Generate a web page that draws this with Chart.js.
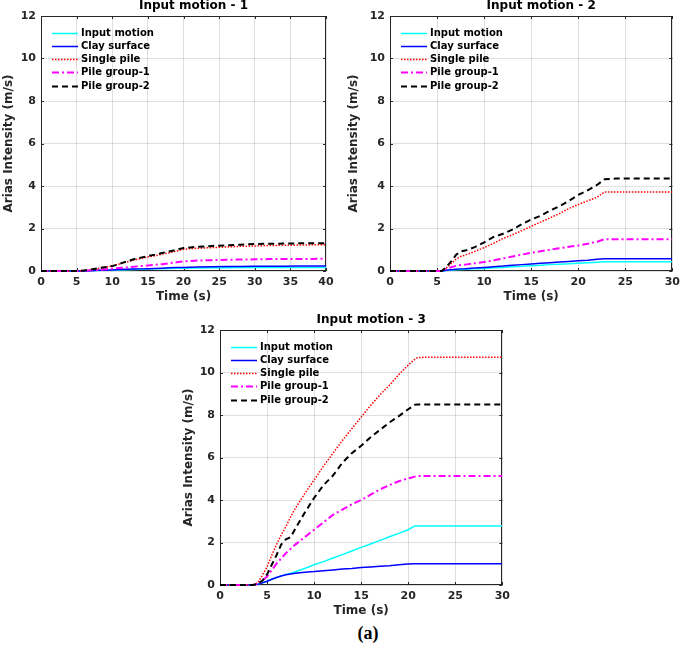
<!DOCTYPE html>
<html>
<head>
<meta charset="utf-8">
<script src="https://cdn.jsdelivr.net/npm/chart.js@4.4.0/dist/chart.umd.min.js"></script>
<style>
    body { margin: 0; background: #fff; }
    #wrap { position: relative; width: 685px; height: 646px; background: #fff; overflow: hidden; }
    canvas { position: absolute; }
    #chart1 { left: 0; top: 0; }
    #chart2 { left: 345px; top: 0; }
    #chart3 { left: 175px; top: 305px; }
    #caption {
        position: absolute; left: 318px; top: 623px; width: 100px; text-align: center;
        font: bold 18px "Liberation Serif", "DejaVu Serif", serif; color: #000;
    }
</style>
</head>
<body>
<div id="wrap">
    <canvas id="chart1" width="340" height="305"></canvas>
    <canvas id="chart2" width="340" height="305"></canvas>
    <canvas id="chart3" width="340" height="315"></canvas>
    <div id="caption">(a)</div>
</div>
<script>
const seriesNames = ['Input motion', 'Clay surface', 'Single pile', 'Pile group-1', 'Pile group-2'];
const chartTitles = ['Input motion - 1', 'Input motion - 2', 'Input motion - 3'];

// input motion 1
const m1Time   = [0, 5, 6, 7, 8, 9, 10, 11, 12, 13, 14, 15, 16, 17, 18, 19, 20, 21, 22, 24, 26, 28, 30, 32, 34, 36, 38, 40];
const m1Input  = [0, 0, 0.005, 0.012, 0.02, 0.03, 0.04, 0.05, 0.06, 0.07, 0.08, 0.09, 0.1, 0.11, 0.12, 0.13, 0.135, 0.14, 0.145, 0.15, 0.155, 0.16, 0.162, 0.165, 0.167, 0.17, 0.17, 0.17];
const m1Clay   = [0, 0, 0.005, 0.015, 0.03, 0.04, 0.05, 0.065, 0.08, 0.09, 0.1, 0.11, 0.12, 0.135, 0.15, 0.16, 0.17, 0.18, 0.19, 0.2, 0.21, 0.215, 0.22, 0.225, 0.228, 0.23, 0.23, 0.23];
const m1Single = [0, 0, 0.02, 0.06, 0.12, 0.18, 0.24, 0.33, 0.42, 0.51, 0.59, 0.66, 0.72, 0.79, 0.86, 0.94, 1.02, 1.05, 1.07, 1.1, 1.13, 1.16, 1.18, 1.2, 1.21, 1.22, 1.23, 1.23];
const m1Group1 = [0, 0, 0.01, 0.03, 0.05, 0.08, 0.11, 0.14, 0.17, 0.2, 0.23, 0.26, 0.29, 0.32, 0.36, 0.41, 0.45, 0.47, 0.49, 0.51, 0.53, 0.54, 0.55, 0.56, 0.56, 0.57, 0.57, 0.58];
const m1Group2 = [0, 0, 0.02, 0.07, 0.13, 0.18, 0.23, 0.33, 0.45, 0.55, 0.63, 0.7, 0.77, 0.85, 0.92, 1.0, 1.08, 1.11, 1.14, 1.18, 1.21, 1.24, 1.27, 1.28, 1.29, 1.3, 1.31, 1.31];

// input motion 2
const m2Time   = [0, 5, 5.5, 6, 6.5, 7, 7.5, 8, 9, 10, 11, 12, 13, 14, 15, 16, 17, 18, 19, 20, 21, 22, 22.8, 24, 26, 28, 30];
const m2Input  = [0, 0, 0, 0.02, 0.04, 0.06, 0.07, 0.08, 0.1, 0.12, 0.15, 0.17, 0.2, 0.22, 0.25, 0.27, 0.3, 0.32, 0.34, 0.37, 0.39, 0.41, 0.43, 0.43, 0.43, 0.43, 0.43];
const m2Clay   = [0, 0, 0, 0.03, 0.06, 0.08, 0.1, 0.11, 0.14, 0.17, 0.2, 0.23, 0.27, 0.3, 0.33, 0.36, 0.39, 0.42, 0.45, 0.48, 0.51, 0.55, 0.58, 0.58, 0.58, 0.58, 0.58];
const m2Single = [0, 0, 0, 0.15, 0.35, 0.55, 0.68, 0.75, 0.92, 1.1, 1.3, 1.53, 1.7, 1.9, 2.1, 2.3, 2.5, 2.7, 2.94, 3.13, 3.3, 3.47, 3.72, 3.72, 3.72, 3.72, 3.72];
const m2Group1 = [0, 0, 0, 0.1, 0.18, 0.24, 0.28, 0.3, 0.36, 0.42, 0.5, 0.59, 0.68, 0.77, 0.86, 0.93, 1.0, 1.07, 1.14, 1.2, 1.28, 1.38, 1.5, 1.5, 1.5, 1.5, 1.5];
const m2Group2 = [0, 0, 0, 0.2, 0.45, 0.75, 0.92, 0.96, 1.12, 1.35, 1.6, 1.75, 1.95, 2.2, 2.42, 2.6, 2.84, 3.05, 3.3, 3.58, 3.8, 4.05, 4.32, 4.35, 4.35, 4.35, 4.35];

// input motion 3
const m3Time   = [0, 3.5, 4, 4.5, 5, 5.5, 6, 6.5, 7, 7.5, 8, 9, 10, 11, 12, 13, 14, 15, 16, 17, 18, 19, 20, 20.7, 21, 22, 25, 30];
const m3Input  = [0, 0, 0.04, 0.1, 0.18, 0.27, 0.35, 0.43, 0.5, 0.56, 0.62, 0.78, 0.95, 1.1, 1.27, 1.43, 1.6, 1.77, 1.93, 2.1, 2.27, 2.43, 2.6, 2.78, 2.78, 2.78, 2.78, 2.78];
const m3Clay   = [0, 0, 0.03, 0.1, 0.18, 0.27, 0.35, 0.42, 0.48, 0.52, 0.55, 0.6, 0.63, 0.67, 0.71, 0.75, 0.78, 0.82, 0.85, 0.88, 0.91, 0.95, 0.99, 1.0, 1.0, 1.0, 1.0, 1.0];
const m3Single = [0, 0, 0.1, 0.45, 0.86, 1.4, 1.9, 2.35, 2.75, 3.2, 3.6, 4.3, 4.94, 5.6, 6.2, 6.8, 7.35, 7.9, 8.45, 8.95, 9.4, 9.9, 10.35, 10.62, 10.7, 10.72, 10.72, 10.72];
const m3Group1 = [0, 0, 0.05, 0.2, 0.4, 0.7, 1.0, 1.25, 1.5, 1.7, 1.9, 2.25, 2.6, 2.95, 3.3, 3.55, 3.8, 4.0, 4.25, 4.5, 4.7, 4.88, 5.02, 5.1, 5.13, 5.13, 5.13, 5.13];
const m3Group2 = [0, 0, 0.05, 0.2, 0.5, 0.95, 1.4, 1.9, 2.15, 2.25, 2.65, 3.4, 4.1, 4.7, 5.15, 5.75, 6.2, 6.55, 6.95, 7.3, 7.65, 7.95, 8.27, 8.48, 8.5, 8.5, 8.5, 8.5];

const lineStyles = [
    { color: '#00FFFF', width: 1.5, dash: [] },
    { color: '#0000FF', width: 1.5, dash: [] },
    { color: '#FF0000', width: 1.5, dash: [1.5, 1.5] },
    { color: '#FF00FF', width: 2, dash: [7, 3, 2, 3] },
    { color: '#000000', width: 2, dash: [6, 4] }
];

const FONT = '"DejaVu Sans", Verdana, sans-serif';
const axisColor = '#262626';
const gridColor = 'rgba(38,38,38,0.15)';

// MATLAB-like box with inward ticks, drawn under the lines
const framePlugin = {
    id: 'frame',
    beforeDatasetsDraw(chart) {
        const { ctx, chartArea: a, scales } = chart;
        ctx.save();
        ctx.strokeStyle = axisColor;
        ctx.lineWidth = 1;
        ctx.strokeRect(Math.round(a.left) + 0.5, Math.round(a.top) + 0.5,
            Math.round(a.right - a.left) - 1, Math.round(a.bottom - a.top) - 1);
        ctx.beginPath();
        scales.x.ticks.forEach(t => {
            const px = Math.round(scales.x.getPixelForValue(t.value)) + 0.5;
            ctx.moveTo(px, a.bottom); ctx.lineTo(px, a.bottom - 3);
            ctx.moveTo(px, a.top); ctx.lineTo(px, a.top + 3);
        });
        scales.y.ticks.forEach(t => {
            const py = Math.round(scales.y.getPixelForValue(t.value)) + 0.5;
            ctx.moveTo(a.left, py); ctx.lineTo(a.left + 3, py);
            ctx.moveTo(a.right, py); ctx.lineTo(a.right - 3, py);
        });
        ctx.stroke();
        ctx.restore();
    }
};

// axes title, centred a little right of the plot centre as in the figure
const axesTitle = {
    id: 'axesTitle',
    afterDraw(chart, args, opts) {
        const { ctx, chartArea: a } = chart;
        ctx.save();
        ctx.font = 'bold 12px ' + FONT;
        ctx.fillStyle = '#000';
        ctx.textAlign = 'center';
        ctx.textBaseline = 'middle';
        ctx.fillText(opts.text, (a.left + a.right) / 2 + 10, a.top - 10);
        ctx.restore();
    }
};

// legend drawn inside the axes, top left
const insideLegend = {
    id: 'insideLegend',
    afterDatasetsDraw(chart) {
        const { ctx, chartArea: a } = chart;
        const x0 = a.left + 11;
        ctx.save();
        ctx.font = 'bold 10px ' + FONT;
        ctx.textBaseline = 'middle';
        ctx.fillStyle = '#000';
        chart.data.datasets.forEach((ds, i) => {
            const y = Math.round(a.top + 16.5 + i * 13.3) + 0.5;
            ctx.strokeStyle = ds.borderColor;
            ctx.lineWidth = ds.borderWidth;
            ctx.setLineDash(ds.borderDash);
            ctx.beginPath();
            ctx.moveTo(x0, y);
            ctx.lineTo(x0 + 26, y);
            ctx.stroke();
            ctx.fillText(ds.label, x0 + 29, y);
        });
        ctx.restore();
    }
};

function makeChart(id, title, times, values, xMax, box) {
    const ctx = document.getElementById(id).getContext('2d');
    return new Chart(ctx, {
        type: 'line',
        data: {
            datasets: values.map((vals, i) => ({
                label: seriesNames[i],
                data: times.map((t, k) => ({ x: t, y: vals[k] })),
                borderColor: lineStyles[i].color,
                borderWidth: lineStyles[i].width,
                borderDash: lineStyles[i].dash,
                pointRadius: 0,
                fill: false,
                tension: 0,
                clip: { left: 0, top: 0, right: 0, bottom: 3 },
                order: values.length - 1 - i
            }))
        },
        options: {
            responsive: false,
            animation: false,
            layout: { padding: { top: box.padTop, right: box.padRight, left: 0, bottom: 0 } },
            plugins: {
                legend: { display: false },
                tooltip: { enabled: false },
                title: { display: false },
                axesTitle: { text: title }
            },
            scales: {
                x: {
                    type: 'linear',
                    min: 0,
                    max: xMax,
                    ticks: { stepSize: 5, color: axisColor, padding: 5, maxRotation: 0,
                        font: { family: FONT, size: 11, weight: 'bold' } },
                    grid: { color: gridColor, drawTicks: false },
                    border: { display: false },
                    title: { display: true, text: 'Time (s)', color: axisColor,
                        font: { family: FONT, size: 12, weight: 'bold' },
                        padding: { top: 0, bottom: box.xTitlePad } },
                    afterFit: s => { s.height = box.xAxisH; }
                },
                y: {
                    min: 0,
                    max: 12,
                    ticks: { stepSize: 2, color: axisColor, padding: 5,
                        font: { family: FONT, size: 11, weight: 'bold' } },
                    grid: { color: gridColor, drawTicks: false },
                    border: { display: false },
                    title: { display: true, text: 'Arias Intensity (m/s)', color: axisColor,
                        font: { family: FONT, size: 12, weight: 'bold' },
                        padding: { top: box.yTitlePad, bottom: 0 } },
                    afterFit: s => { s.width = box.yAxisW; }
                }
            }
        },
        plugins: [framePlugin, axesTitle, insideLegend]
    });
}

makeChart('chart1', chartTitles[0], m1Time, [m1Input, m1Clay, m1Single, m1Group1, m1Group2], 40,
    { padTop: 16, padRight: 14, yAxisW: 41, xAxisH: 34, xTitlePad: 0.8, yTitlePad: 1.5 });
makeChart('chart2', chartTitles[1], m2Time, [m2Input, m2Clay, m2Single, m2Group1, m2Group2], 30,
    { padTop: 16, padRight: 11, yAxisW: 45, xAxisH: 34, xTitlePad: 0.8, yTitlePad: 1.3 });
makeChart('chart3', chartTitles[2], m3Time, [m3Input, m3Clay, m3Single, m3Group1, m3Group2], 30,
    { padTop: 25, padRight: 11, yAxisW: 45, xAxisH: 35, xTitlePad: 1.8, yTitlePad: 6.8 });
</script>
</body>
</html>
